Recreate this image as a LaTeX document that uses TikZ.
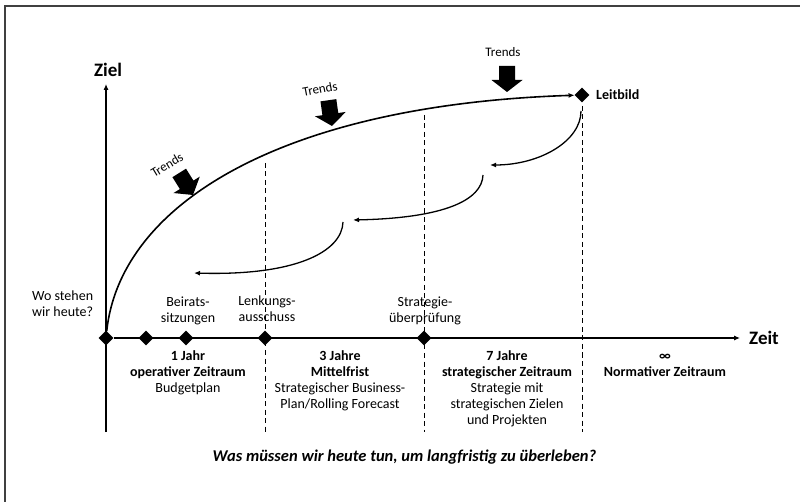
\documentclass[tikz,border=0pt]{standalone}
\usepackage{fontspec}
\setmainfont{Carlito}
\usetikzlibrary{arrows.meta,shapes.geometric}

\begin{document}
\begin{tikzpicture}[x=1pt,y=-1pt,
  frameline/.style={line width=1.3pt, black!75},
  axisline/.style={line width=1.1pt, -{Latex[length=6pt,width=5pt]}},
  guide/.style={line width=1pt, dash pattern=on 5pt off 3.5pt},
  mainpath/.style={line width=1.6pt, -{Latex[length=6pt,width=5pt]}},
  feedback/.style={line width=1.3pt, -{Latex[length=6pt,width=5pt]}},
  milestone/.style={diamond, fill=black, inner sep=0pt, minimum width=15pt, minimum height=15pt},
  lbl/.style={align=center, font=\fontsize{14}{16}\selectfont, inner sep=0pt},
  bigbold/.style={font=\fontsize{19}{22}\selectfont\bfseries, inner sep=0pt},
  trendtext/.style={font=\fontsize{13}{15}\selectfont, inner sep=0pt},
  trendarrow/.style={fill=black}
]
\useasboundingbox (0,0) rectangle (800,502);

% outer frame (top and left edge)
\draw[frameline] (5,502) -- (5,6) -- (800,6);

% milestones on the time axis and the guiding vision
\node[milestone] (o)  at (106,338) {};
\node[milestone] (m1) at (146,338) {};
\node[milestone] (m2) at (186,338) {};
\node[milestone] (m3) at (265,338) {};
\node[milestone] (m4) at (424,338) {};
\node[milestone] (leit) at (582,95) {};

% axes
\coordinate (ybot) at (106,432);
\coordinate (ytop) at (106,84);
\coordinate (xend) at (740,338);
\draw[axisline] (ybot) -- (ytop);
\draw[axisline] (o) -- (xend);
\node[bigbold] (ziel) at (108,69.5) {Ziel};
\node[bigbold, anchor=west] (zeit) at (749,337.5) {Zeit};
\node[font=\fontsize{14}{16}\selectfont\bfseries, inner sep=0pt, anchor=west] (leitlbl) at (596,94.5) {Leitbild};

% period boundaries
\coordinate (g1top) at (265,163);
\coordinate (g1bot) at (265,432);
\coordinate (g2top) at (424,115);
\coordinate (g2bot) at (424,432);
\coordinate (g3top) at (582,106);
\coordinate (g3bot) at (582,432);
\draw[guide] (g1top) -- (g1bot);
\draw[guide] (g2top) -- (g2bot);
\draw[guide] (g3top) -- (g3bot);

% development path towards the vision
\draw[mainpath] (o) .. controls (120,205) and (280,105) .. (leit);

% feedback loops back from the vision
\coordinate (f1a) at (581,111);
\coordinate (f1b) at (490,165);
\coordinate (f2a) at (483,175);
\coordinate (f2b) at (353,220);
\coordinate (f3a) at (343,222);
\coordinate (f3b) at (194,273);
\draw[feedback] (f1a) .. controls (581,141) and (540,165) .. (f1b);
\draw[feedback] (f2a) .. controls (482,200) and (445,218) .. (f2b);
\draw[feedback] (f3a) .. controls (342,252) and (295,276) .. (f3b);

% external trends pushing on the path
\fill[trendarrow, shift={(507,92)}]
  (0,0) -- (-15.5,-12) -- (-8,-12) -- (-8,-26) -- (8,-26) -- (8,-12) -- (15.5,-12) -- cycle;
\fill[trendarrow, shift={(332,126)}, rotate=8]
  (0,0) -- (-15.5,-12) -- (-8,-12) -- (-8,-26) -- (8,-26) -- (8,-12) -- (15.5,-12) -- cycle;
\fill[trendarrow, shift={(193,195)}, rotate=32]
  (0,0) -- (-15.5,-12) -- (-8,-12) -- (-8,-26) -- (8,-26) -- (8,-12) -- (15.5,-12) -- cycle;
\node[trendtext] (t1) at (503,52) {Trends};
\node[trendtext, rotate=11] (t2) at (320,89) {Trends};
\node[trendtext, rotate=31] (t3) at (167,165) {Trends};

% labels above the time axis
\node[lbl, align=left, anchor=west] (heute) at (32,304) {Wo stehen\\wir heute?};
\node[lbl] (beirat) at (188,310.8) {Beirats-\\sitzungen};
\node[lbl] (lenkung) at (267,309) {Lenkungs-\\ausschuss};
\node[lbl] (strat) at (425,310.8) {Strategie-\\überprüfung};

% periods below the time axis
\node[lbl] (p1) at (188,372.9) {\textbf{1 Jahr}\\\textbf{operativer Zeitraum}\\Budgetplan};
\node[lbl] (p3) at (340,380.9) {\textbf{3 Jahre}\\\textbf{Mittelfrist}\\Strategischer Business-\\Plan/Rolling Forecast};
\node[lbl] (p7) at (507,388.9) {\textbf{7 Jahre}\\\textbf{strategischer Zeitraum}\\Strategie mit\\strategischen Zielen\\und Projekten};
\node[lbl] (pinf) at (665,365) {\textbf{∞}\\\textbf{Normativer Zeitraum}};

% guiding question
\node[font=\fontsize{16.5}{19}\selectfont\bfseries\itshape, inner sep=0pt] (frage) at (404.5,457.5)
  {Was müssen wir heute tun, um langfristig zu überleben?};
\end{tikzpicture}
\end{document}
